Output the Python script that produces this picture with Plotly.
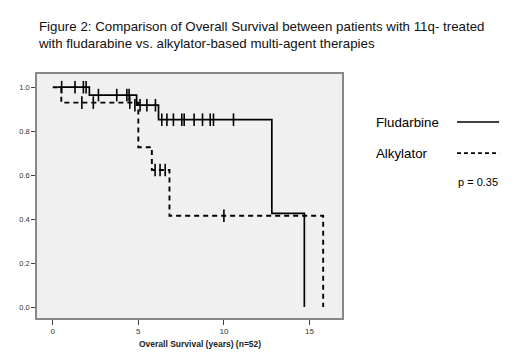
import plotly.graph_objects as go

# Kaplan-Meier step data (event times and survival after each step)
flu_times = [0.3, 2.14, 4.9, 6.18, 12.8, 14.7]
flu_surv = [1.0, 0.964, 0.918, 0.852, 0.426, 0.0]
alk_times = [0.0, 0.5, 5.0, 5.79, 6.82, 15.8]
alk_surv = [1.0, 0.93, 0.727, 0.623, 0.415, 0.0]

# censored observations
flu_cens_t = [0.52, 1.3, 1.79, 1.95, 2.67, 3.74, 4.33, 4.46, 4.8, 5.1, 5.5, 6.0,
              6.37, 6.67, 7.05, 7.54, 7.68, 8.26, 8.75, 9.2, 9.39, 10.56]
flu_cens_s = [1.0, 1.0, 1.0, 1.0, 0.964, 0.964, 0.964, 0.964, 0.918, 0.918, 0.918, 0.918,
              0.852, 0.852, 0.852, 0.852, 0.852, 0.852, 0.852, 0.852, 0.852, 0.852]
alk_cens_t = [1.7, 2.37, 4.5, 5.98, 6.27, 6.57, 10.0]
alk_cens_s = [0.93, 0.93, 0.93, 0.623, 0.623, 0.623, 0.415]

x_ticks = [0, 5, 10, 15]
y_ticks = [0.0, 0.2, 0.4, 0.6, 0.8, 1.0]
y_tick_labels = ["0.0", "0.2", "0.4", "0.6", "0.8", "1.0"]

cens_marker = dict(symbol="line-ns-open", size=9, color="black", line=dict(color="black", width=1.6))

fig = go.Figure()
fig.add_trace(go.Scatter(x=flu_times, y=flu_surv, mode="lines", line_shape="hv",
                         line=dict(color="black", width=1.7), showlegend=False))
fig.add_trace(go.Scatter(x=alk_times, y=alk_surv, mode="lines", line_shape="hv",
                         line=dict(color="black", width=1.9, dash="5px,4px"), showlegend=False))
fig.add_trace(go.Scatter(x=flu_cens_t, y=flu_cens_s, mode="markers", marker=cens_marker,
                         showlegend=False))
fig.add_trace(go.Scatter(x=alk_cens_t, y=alk_cens_s, mode="markers", marker=cens_marker,
                         showlegend=False))

font_family = "Liberation Sans, Arial, sans-serif"

# page body has an 8px margin, so the figure is sized to fill the rest of the window
fig.update_layout(
    template="none",
    width=512, height=354,
    margin=dict(l=29, r=178, t=66, b=44, pad=0),
    paper_bgcolor="white", plot_bgcolor="#f0f0f0",
    font=dict(family=font_family, color="black"),
    xaxis=dict(range=[-0.92, 16.9], tickvals=x_ticks, ticks="outside", ticklen=5,
               tickcolor="#444", tickfont=dict(size=8, color="#333"), showgrid=False,
               zeroline=False, showline=True, linecolor="#888", linewidth=1.5, mirror=True,
               automargin=False),
    yaxis=dict(range=[-0.05, 1.06], tickvals=y_ticks, ticktext=y_tick_labels, ticks="outside",
               ticklen=4, tickcolor="#444", tickfont=dict(size=7.5, color="#333"), showgrid=False,
               zeroline=False, showline=True, linecolor="#888", linewidth=1.5, mirror=True,
               automargin=False),
    annotations=[
        dict(text="Figure 2: Comparison of Overall Survival between patients with 11q- treated<br>with fludarabine vs. alkylator-based multi-agent therapies",
             xref="paper", yref="paper", x=-0.003, y=1.16, xanchor="left", yanchor="middle",
             align="left", showarrow=False, font=dict(size=13.3, color="#111")),
        dict(text="<b>Overall Survival (years) (n=52)</b>", xref="paper", yref="paper",
             x=0.535, y=-0.105, xanchor="center", yanchor="middle", showarrow=False,
             font=dict(size=8.5, color="#222")),
        dict(text="Fludarbine", xref="paper", yref="paper", x=1.105, y=0.803,
             xanchor="left", yanchor="middle", showarrow=False, font=dict(size=13.3)),
        dict(text="Alkylator", xref="paper", yref="paper", x=1.105, y=0.676,
             xanchor="left", yanchor="middle", showarrow=False, font=dict(size=13.3)),
        dict(text="p = 0.35", xref="paper", yref="paper", x=1.375, y=0.557,
             xanchor="left", yanchor="middle", showarrow=False, font=dict(size=11)),
    ],
    shapes=[
        dict(type="line", xref="paper", yref="paper", x0=1.377, x1=1.515, y0=0.803, y1=0.803,
             line=dict(color="black", width=1.6)),
        dict(type="line", xref="paper", yref="paper", x0=1.377, x1=1.515, y0=0.676, y1=0.676,
             line=dict(color="black", width=1.8, dash="4px,3px")),
    ],
)

fig.write_html("out.html")
